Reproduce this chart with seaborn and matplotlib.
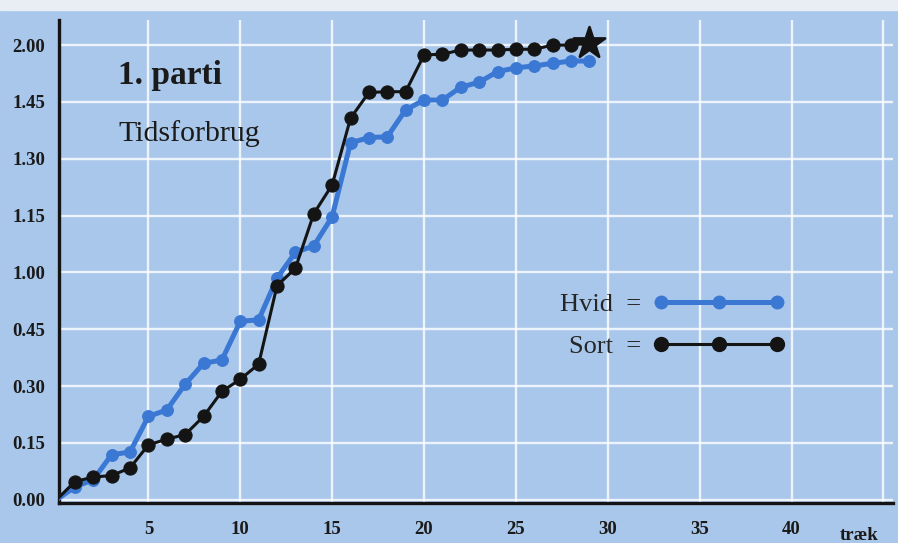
import matplotlib
matplotlib.use("Agg")
import matplotlib.pyplot as plt
from matplotlib.lines import Line2D
from matplotlib.patches import Rectangle
import matplotlib.transforms as mtransforms
import pandas as pd
import seaborn as sns

# move number (træk) and accumulated thinking time in minutes
moves = list(range(0, 30))
hvid_min = [0, 3.4, 5.3, 11.9, 12.6, 22.0, 23.7, 30.5, 36.0, 36.9, 47.1,
            47.5, 58.5, 65.3, 67.0, 74.7, 94.2, 95.6, 95.8, 102.9, 105.5,
            105.5, 108.9, 110.2, 113.0, 114.0, 114.5, 115.2, 115.8, 115.8]
sort_min = [0, 4.8, 6.0, 6.4, 8.4, 14.5, 16.0, 17.2, 22.0, 28.6, 31.8,
            35.8, 56.5, 61.1, 75.5, 83.1, 100.7, 107.5, 107.7, 107.7, 117.4,
            117.6, 118.7, 118.7, 118.7, 118.9, 118.9, 120.0, 120.0, 120.5]

y_ticks = [0, 15, 30, 45, 60, 75, 90, 105, 120]
y_labels = ["0.00", "0.15", "0.30", "0.45", "1.00", "1.15", "1.30", "1.45", "2.00"]
x_ticks = [5, 10, 15, 20, 25, 30, 35, 40, 45]
x_labels = ["5", "10", "15", "20", "25", "30", "35", "40", ""]

BG = "#a9c7ea"
BLUE = "#3b78d4"
BLACK = "#141414"
TEXT = "#1a1a1a"
SERIF = ["Liberation Serif", "DejaVu Serif"]

sns.set_theme(style="white")
plt.rcParams["font.family"] = SERIF

df = pd.DataFrame({"trek": moves, "Hvid": hvid_min, "Sort": sort_min})

fig = plt.figure(figsize=(8.98, 5.43), dpi=100, facecolor=BG)
ax = fig.add_axes([0.066, 0.074, 0.928, 0.889])
ax.set_facecolor(BG)
fig.patches.append(Rectangle((0, 0.982), 1, 0.018, transform=fig.transFigure,
                             color="#e9eef4", zorder=0))

sns.lineplot(data=df, x="trek", y="Hvid", ax=ax, color=BLUE, lw=3.6,
             marker="o", ms=8.5, mec=BLUE, markevery=list(range(1, 30)),
             zorder=3)
sns.lineplot(data=df, x="trek", y="Sort", ax=ax, color=BLACK, lw=2.2,
             marker="o", ms=9.5, mec=BLACK, markevery=list(range(1, 29)),
             zorder=4)
last = df.iloc[[-1]]
sns.scatterplot(data=last, x="trek", y="Sort", ax=ax, marker="*", s=560,
                color=BLACK, edgecolor=BLACK, zorder=5)

ax.set_xlim(0.15, 45.5)
ax.set_ylim(-0.8, 126.6)
ax.set_yticks(y_ticks)
ax.set_yticklabels(y_labels, fontsize=13.5, fontweight="bold", color=TEXT)
ax.set_xticks(x_ticks)
ax.set_xticklabels(x_labels, fontsize=13.5, fontweight="bold", color=TEXT)
ax.tick_params(axis="both", length=0)
ax.tick_params(axis="y", pad=10)
ax.tick_params(axis="x", pad=13)
ax.set_xlabel("")
ax.set_ylabel("")
ax.grid(True, color="white", lw=1.7, alpha=0.8)
ax.set_axisbelow(True)
for side in ["top", "right"]:
    ax.spines[side].set_visible(False)
for side in ["left", "bottom"]:
    ax.spines[side].set_color(BLACK)
    ax.spines[side].set_linewidth(2.4)

trans = mtransforms.blended_transform_factory(ax.transData, ax.transAxes)
ax.text(43.7, -0.05, "træk", transform=trans, ha="center", va="top",
        fontsize=13.5, fontweight="bold", color=TEXT)

ax.text(0.071, 0.885, "1. parti", transform=ax.transAxes, fontsize=24,
        fontweight="bold", color=TEXT, va="center")
ax.text(0.071, 0.765, "Tidsforbrug", transform=ax.transAxes, fontsize=21.5,
        color=TEXT, va="center")

handles = [
    Line2D([], [], color=BLUE, lw=3.6, marker="o", ms=9),
    Line2D([], [], color=BLACK, lw=2.2, marker="o", ms=10),
]
leg = ax.legend(handles, ["Hvid  =", "Sort  ="], loc="upper left",
                bbox_to_anchor=(0.572, 0.485), frameon=False, markerfirst=False,
                numpoints=3, handlelength=5.0, fontsize=19, labelspacing=0.7,
                handletextpad=0.45)

fig.savefig("out.png", dpi=100, facecolor=BG)
